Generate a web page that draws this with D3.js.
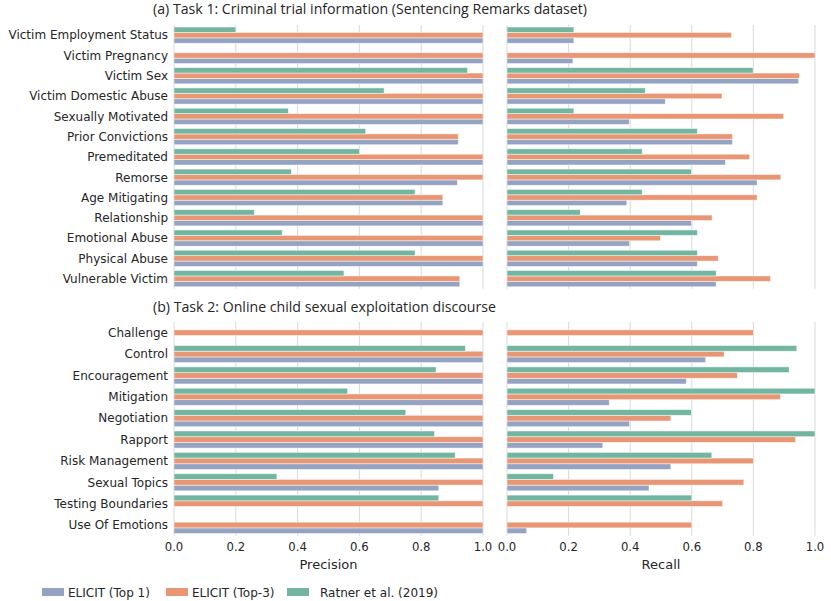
<!DOCTYPE html>
<html>
<head>
<meta charset="utf-8">
<script src="https://cdn.jsdelivr.net/npm/d3@7"></script>
<style>
  body { margin: 0; background: #fff; }
  svg text { fill: #262626; font-family: "DejaVu Sans", sans-serif; }
</style>
</head>
<body>
<div id="chart"></div>
<script>
// ---- data ----
var task1Cats = ["Victim Employment Status", "Victim Pregnancy", "Victim Sex", "Victim Domestic Abuse",
    "Sexually Motivated", "Prior Convictions", "Premeditated", "Remorse", "Age Mitigating",
    "Relationship", "Emotional Abuse", "Physical Abuse", "Vulnerable Victim"];
var t1PrecTop1   = [1, 1, 1, 1, 1, 0.92, 1, 0.917, 0.87, 1, 1, 1, 0.925];
var t1PrecTop3   = [1, 1, 1, 1, 1, 0.92, 1, 1, 0.87, 1, 1, 1, 0.925];
var t1PrecRatner = [0.2, null, 0.95, 0.68, 0.37, 0.62, 0.6, 0.38, 0.78, 0.26, 0.35, 0.78, 0.55];
var t1RecTop1    = [0.217, 0.214, 0.947, 0.514, 0.397, 0.732, 0.709, 0.812, 0.389, 0.599, 0.398, 0.618, 0.679];
var t1RecTop3    = [0.729, 1.0, 0.949, 0.698, 0.898, 0.732, 0.788, 0.889, 0.812, 0.666, 0.498, 0.686, 0.856];
var t1RecRatner  = [0.217, null, 0.799, 0.449, 0.217, 0.618, 0.439, 0.599, 0.439, 0.238, 0.618, 0.618, 0.679];

var task2Cats = ["Challenge", "Control", "Encouragement", "Mitigation", "Negotiation", "Rapport",
    "Risk Management", "Sexual Topics", "Testing Boundaries", "Use Of Emotions"];
var t2PrecTop1   = [null, 1, 1, 1, 1, 1, 1, 0.857, null, 1];
var t2PrecTop3   = [1, 1, 1, 1, 1, 1, 1, 1, 1, 1];
var t2PrecRatner = [null, 0.943, 0.848, 0.562, 0.75, 0.843, 0.91, 0.333, 0.857, null];
var t2RecTop1    = [null, 0.645, 0.582, 0.332, 0.398, 0.311, 0.532, 0.461, null, 0.064];
var t2RecTop3    = [0.8, 0.705, 0.748, 0.888, 0.532, 0.937, 0.8, 0.769, 0.7, 0.6];
var t2RecRatner  = [null, 0.941, 0.916, 1.0, 0.599, 1.0, 0.665, 0.151, 0.6, null];

var seriesNames = ["ELICIT (Top 1)", "ELICIT (Top-3)", "Ratner et al. (2019)"];
var xTicks = [0, 0.2, 0.4, 0.6, 0.8, 1.0];
var titles = ["(a) Task 1: Criminal trial information (Sentencing Remarks dataset)",
    "(b) Task 2: Online child sexual exploitation discourse"];

// seaborn Set2, desaturated like barplot does
var color = d3.scaleOrdinal()
    .domain(seriesNames)
    .range(["#95a3c3", "#e99675", "#72b6a1"]);

// bars inside a group go top -> bottom in this order
var barOrder = ["Ratner et al. (2019)", "ELICIT (Top-3)", "ELICIT (Top 1)"];

var width = 831, height = 601;
var svg = d3.select("#chart").append("svg")
    .attr("width", width)
    .attr("height", height);

var leftX = [174, 483], rightX = [507, 815];

function drawPanel(xr, yr, cats, vals, showY, showX, xlabel) {
    var x = d3.scaleLinear().domain([0, 1]).range(xr);
    var y = d3.scaleBand().domain(cats).range(yr).paddingInner(0).paddingOuter(0);
    var inner = d3.scaleBand().domain(barOrder)
        .range([y.bandwidth() * 0.1, y.bandwidth() * 0.9]);

    var g = svg.append("g");

    // grid
    g.selectAll("line.grid")
        .data(xTicks)
        .enter().append("line")
        .attr("class", "grid")
        .attr("x1", function (d) { return x(d); })
        .attr("x2", function (d) { return x(d); })
        .attr("y1", yr[0])
        .attr("y2", yr[1])
        .style("stroke", "#dcdcdc")
        .style("stroke-width", 1.1);

    // bars
    var rows = [];
    cats.forEach(function (c, i) {
        seriesNames.forEach(function (s) {
            var v = vals[s][i];
            if (v != null) rows.push({cat: c, series: s, value: v});
        });
    });
    g.selectAll("rect.bar")
        .data(rows)
        .enter().append("rect")
        .attr("class", "bar")
        .attr("x", x(0))
        .attr("y", function (d) { return y(d.cat) + inner(d.series); })
        .attr("width", function (d) { return x(d.value) - x(0); })
        .attr("height", inner.bandwidth())
        .style("fill", function (d) { return color(d.series); })
        .style("stroke", "#ffffff")
        .style("stroke-width", 0.8)
        .style("stroke-opacity", 0.6);

    if (showY) {
        g.selectAll("text.ylab")
            .data(cats)
            .enter().append("text")
            .attr("class", "ylab")
            .attr("x", xr[0] - 6)
            .attr("y", function (d) { return y(d) + y.bandwidth() / 2; })
            .attr("dy", "0.36em")
            .attr("text-anchor", "end")
            .style("font-size", "12px")
            .text(function (d) { return d; });
    }
    if (showX) {
        g.selectAll("text.xtick")
            .data(xTicks)
            .enter().append("text")
            .attr("class", "xtick")
            .attr("x", function (d) { return x(d); })
            .attr("y", yr[1] + 15)
            .attr("text-anchor", "middle")
            .style("font-size", "11.7px")
            .text(function (d) { return d.toFixed(1); });
        g.append("text")
            .attr("x", (xr[0] + xr[1]) / 2)
            .attr("y", yr[1] + 33)
            .attr("text-anchor", "middle")
            .style("font-size", "13px")
            .text(xlabel);
    }
}

function pack(a, b, c) {
    var o = {};
    o[seriesNames[0]] = a; o[seriesNames[1]] = b; o[seriesNames[2]] = c;
    return o;
}

var topY = [25, 288.8], botY = [322, 535.7];
drawPanel(leftX, topY, task1Cats, pack(t1PrecTop1, t1PrecTop3, t1PrecRatner), true, false);
drawPanel(rightX, topY, task1Cats, pack(t1RecTop1, t1RecTop3, t1RecRatner), false, false);
drawPanel(leftX, botY, task2Cats, pack(t2PrecTop1, t2PrecTop3, t2PrecRatner), true, true, "Precision");
drawPanel(rightX, botY, task2Cats, pack(t2RecTop1, t2RecTop3, t2RecRatner), false, true, "Recall");

// titles
svg.append("text")
    .attr("x", 153).attr("y", 13.5)
    .attr("textLength", 434).attr("lengthAdjust", "spacingAndGlyphs")
    .style("font-family", "'Open Sans', 'Noto Sans', sans-serif")
    .style("font-size", "14px")
    .text(titles[0]);
svg.append("text")
    .attr("x", 153).attr("y", 312)
    .attr("textLength", 343).attr("lengthAdjust", "spacingAndGlyphs")
    .style("font-family", "'Open Sans', 'Noto Sans', sans-serif")
    .style("font-size", "14px")
    .text(titles[1]);

// legend
var legendX = [42, 166, 287];
var legendTextX = [68, 192, 320];
var legend = svg.selectAll("g.legend")
    .data(seriesNames)
    .enter().append("g")
    .attr("class", "legend");
legend.append("rect")
    .attr("x", function (d, i) { return legendX[i]; })
    .attr("y", 588)
    .attr("width", 22)
    .attr("height", 8)
    .style("fill", function (d) { return color(d); });
legend.append("text")
    .attr("x", function (d, i) { return legendTextX[i]; })
    .attr("y", 596.5)
    .style("font-size", "12px")
    .text(function (d) { return d; });
</script>
</body>
</html>
